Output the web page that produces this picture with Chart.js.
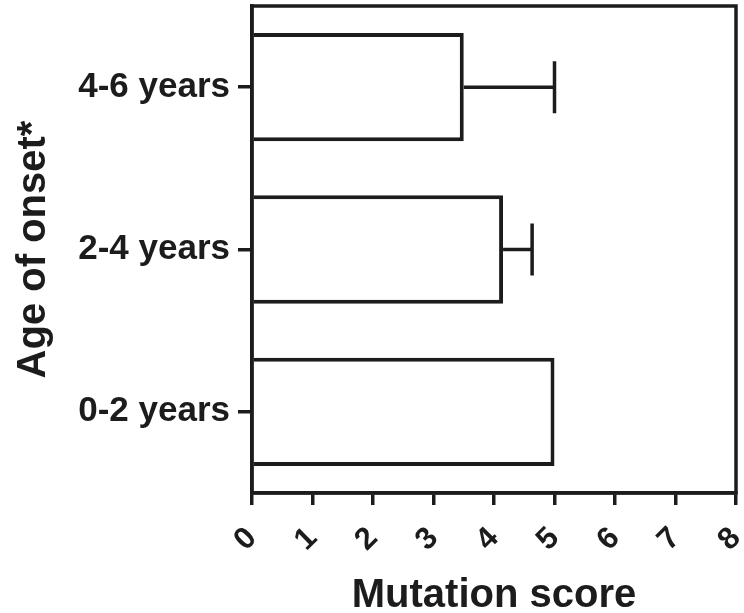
<!doctype html>
<html lang="en">
  <head>
    <meta charset="utf-8">
    <title>Mutation score by age of onset</title>
    <style>
      * { margin: 0; padding: 0; }
      body { background: #fff; }
      .chartBox { width: 744px; height: 613px; }
    </style>
  </head>
  <body>
    <div class="chartBox">
      <canvas id="myChart"></canvas>
    </div>
    <script src="https://cdn.jsdelivr.net/npm/chart.js"></script>
    <script>
    const categories = ['0-2 years', '2-4 years', '4-6 years'];
    const means = [5.0, 4.15, 3.5];
    const errors = [0, 0.48, 1.5];

    const ink = '#1c1c1c';
    const lw = 3.5;
    const fontFamily = '"Liberation Sans", Arial, Helvetica, sans-serif';

    // frame round the plot area (top + right sides)
    const frame = {
      id: 'frame',
      afterDraw(chart) {
        const {ctx, chartArea: a} = chart;
        ctx.save();
        ctx.strokeStyle = ink;
        ctx.lineWidth = lw;
        ctx.strokeRect(a.left, a.top, a.right - a.left, a.bottom - a.top);
        ctx.restore();
      }
    };

    // one-sided error bars
    const errorBars = {
      id: 'errorBars',
      afterDatasetsDraw(chart) {
        const {ctx} = chart;
        const xs = chart.scales.x;
        const meta = chart.getDatasetMeta(0);
        ctx.save();
        ctx.strokeStyle = ink;
        ctx.lineWidth = lw;
        meta.data.forEach((bar, i) => {
          if (!errors[i]) return;
          const x1 = xs.getPixelForValue(means[i] + errors[i]);
          ctx.beginPath();
          ctx.moveTo(bar.x, bar.y);
          ctx.lineTo(x1, bar.y);
          ctx.moveTo(x1, bar.y - 26);
          ctx.lineTo(x1, bar.y + 26);
          ctx.stroke();
        });
        ctx.restore();
      }
    };

    const data = {
      labels: categories,
      datasets: [{
        data: means,
        backgroundColor: '#ffffff',
        borderColor: ink,
        borderWidth: 4,
        categoryPercentage: 1,
        barPercentage: 0.667
      }]
    };

    const config = {
      type: 'bar',
      data,
      options: {
        indexAxis: 'y',
        responsive: true,
        maintainAspectRatio: false,
        animation: false,
        layout: { padding: { top: 6, right: 8, left: 0, bottom: 0 } },
        plugins: {
          legend: { display: false },
          tooltip: { enabled: false }
        },
        scales: {
          x: {
            min: 0,
            max: 8,
            ticks: {
              stepSize: 1,
              minRotation: 45,
              maxRotation: 45,
              padding: 15,
              color: ink,
              font: { family: fontFamily, size: 31, weight: 'bold' }
            },
            grid: {
              drawOnChartArea: false,
              tickLength: 12,
              lineWidth: lw,
              color: ink
            },
            border: { width: lw, color: ink },
            title: {
              display: true,
              text: 'Mutation score',
              color: ink,
              font: { family: fontFamily, size: 40, weight: 'bold', lineHeight: 0.85 },
              padding: { top: 0, bottom: 0 }
            },
            afterFit(scale) {
              scale.height = 120;
              scale.paddingLeft = 0;
              scale.paddingRight = 0;
            }
          },
          y: {
            reverse: true,
            ticks: {
              padding: 8,
              color: ink,
              font: { family: fontFamily, size: 35, weight: 'bold' }
            },
            grid: {
              offset: false,
              drawOnChartArea: false,
              tickLength: 14,
              lineWidth: lw,
              color: ink
            },
            border: { width: lw, color: ink },
            title: {
              display: true,
              text: 'Age of onset*',
              color: ink,
              font: { family: fontFamily, size: 40, weight: 'bold', lineHeight: 1.2 },
              padding: { top: 10, bottom: 0 }
            },
            afterFit(scale) {
              scale.width = 252;
              scale.paddingTop = 0;
              scale.paddingBottom = 0;
            }
          }
        }
      },
      plugins: [frame, errorBars]
    };

    const myChart = new Chart(document.getElementById('myChart'), config);
    </script>
  </body>
</html>
